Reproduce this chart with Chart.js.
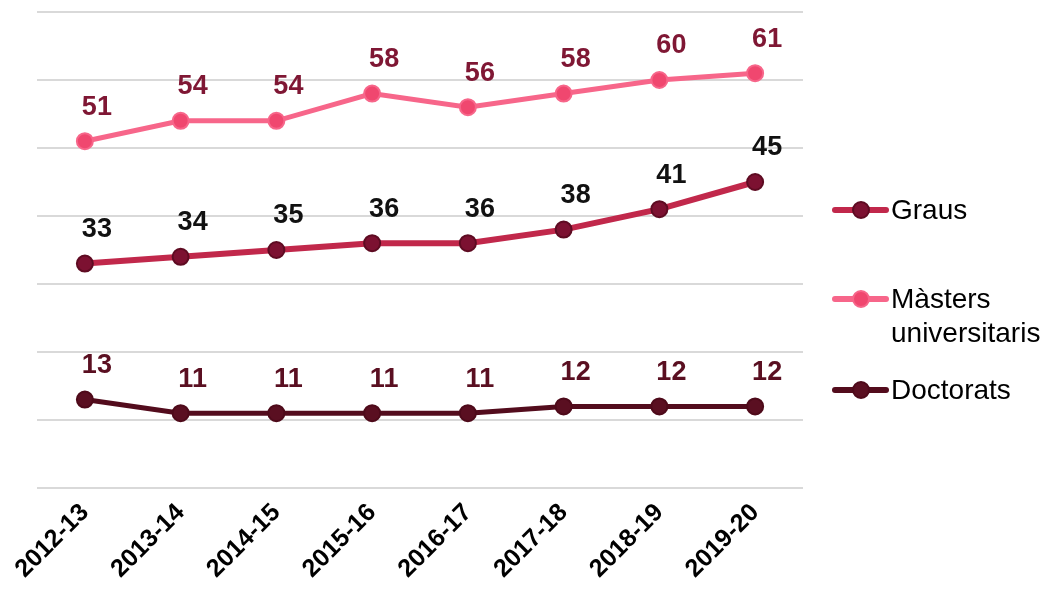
<!DOCTYPE html>
<html>
<head>
<meta charset="utf-8">
<script src="https://cdn.jsdelivr.net/npm/chart.js@4.4.0/dist/chart.umd.min.js"></script>
<style>
html,body{margin:0;padding:0;background:#fff;}
#wrap{position:relative;width:1049px;height:590px;}
</style>
</head>
<body>
<div id="wrap"><canvas id="c" width="1049" height="590"></canvas></div>
<script>
const categories = ["2012-13","2013-14","2014-15","2015-16","2016-17","2017-18","2018-19","2019-20"];
const graus = [33,34,35,36,36,38,41,45];
const masters = [51,54,54,58,56,58,60,61];
const doctorats = [13,11,11,11,11,12,12,12];
const seriesNames = ["Graus", ["Màsters","universitaris"], "Doctorats"];
const yTicks = [0,10,20,30,40,50,60,70];

const FONT = "'Liberation Sans', Arial, sans-serif";

const dataLabelPlugin = {
  id: 'dataLabels',
  afterDatasetsDraw(chart) {
    const ctx = chart.ctx;
    ctx.save();
    ctx.font = "bold 27px " + FONT;
    ctx.textAlign = 'center';
    ctx.textBaseline = 'middle';
    chart.data.datasets.forEach((ds, di) => {
      const meta = chart.getDatasetMeta(di);
      ctx.fillStyle = ds.labelColor;
      meta.data.forEach((pt, i) => {
        ctx.fillText(String(ds.data[i]), pt.x + 12, pt.y - 34);
      });
    });
    ctx.restore();
  }
};

const legendPlugin = {
  id: 'customLegend',
  afterDraw(chart) {
    const ctx = chart.ctx;
    ctx.save();
    const items = [
      {ds: 0, y: 210},
      {ds: 1, y: 299},
      {ds: 2, y: 390}
    ];
    items.forEach(it => {
      const ds = chart.data.datasets[it.ds];
      ctx.strokeStyle = ds.borderColor;
      ctx.lineWidth = 6;
      ctx.lineCap = 'round';
      ctx.beginPath();
      ctx.moveTo(835, it.y);
      ctx.lineTo(886, it.y);
      ctx.stroke();
      ctx.beginPath();
      ctx.arc(861, it.y, 8, 0, Math.PI * 2);
      ctx.fillStyle = ds.pointBackgroundColor;
      ctx.fill();
      ctx.lineWidth = 2;
      ctx.strokeStyle = ds.pointBorderColor;
      ctx.stroke();
      ctx.fillStyle = '#000';
      ctx.font = "28px " + FONT;
      ctx.textAlign = 'left';
      ctx.textBaseline = 'middle';
      const name = seriesNames[it.ds];
      const lines = Array.isArray(name) ? name : [name];
      lines.forEach((ln, k) => ctx.fillText(ln, 891, it.y + k * 34 + 1));
    });
    ctx.restore();
  }
};

new Chart(document.getElementById('c'), {
  type: 'line',
  data: {
    labels: categories,
    datasets: [
      {
        label: 'Graus', data: graus,
        borderColor: '#C1284B', borderWidth: 6,
        pointBackgroundColor: '#7C1131', pointBorderColor: '#5E0B22',
        pointBorderWidth: 2, pointRadius: 8, labelColor: '#111111'
      },
      {
        label: 'Màsters universitaris', data: masters,
        borderColor: '#F7668A', borderWidth: 5,
        pointBackgroundColor: '#F0476F', pointBorderColor: '#F7668A',
        pointBorderWidth: 2, pointRadius: 8, labelColor: '#7F1734'
      },
      {
        label: 'Doctorats', data: doctorats,
        borderColor: '#530C1D', borderWidth: 5,
        pointBackgroundColor: '#5A0F21', pointBorderColor: '#4E0A1A',
        pointBorderWidth: 2, pointRadius: 8, labelColor: '#5A0F21'
      }
    ]
  },
  options: {
    responsive: false,
    animation: false,
    layout: { padding: { left: 37, right: 246, top: 12, bottom: 0 } },
    plugins: { legend: { display: false }, tooltip: { enabled: false } },
    scales: {
      x: {
        offset: true,
        grid: { display: false },
        border: { display: false },
        ticks: {
          color: '#000',
          font: { family: FONT, size: 25, weight: 'bold' },
          maxRotation: 45, minRotation: 45, padding: 2
        },
        afterFit(s) { s.height = 102; }
      },
      y: {
        min: 0, max: 70,
        afterBuildTicks(s) { s.ticks = yTicks.map(v => ({ value: v })); },
        grid: { color: '#D9D9D9', lineWidth: 2, drawTicks: false },
        border: { display: false },
        ticks: { display: false },
        afterFit(s) { s.width = 0; }
      }
    }
  },
  plugins: [dataLabelPlugin, legendPlugin]
});
</script>
</body>
</html>
